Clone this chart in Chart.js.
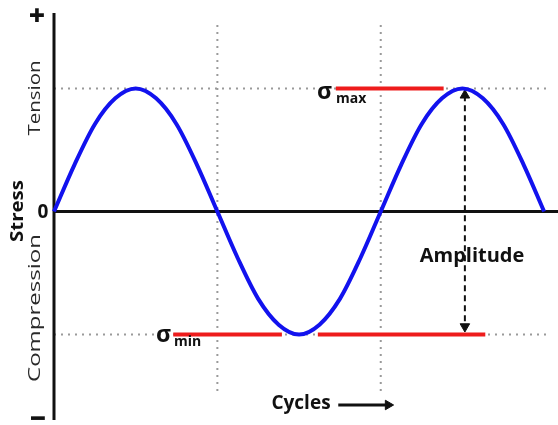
<!DOCTYPE html>
<html>
<head>
<meta charset="utf-8">
<script src="https://cdn.jsdelivr.net/npm/chart.js@4"></script>
<style>
  html, body { margin: 0; padding: 0; background: #ffffff; overflow: hidden; }
  canvas { display: block; }
</style>
</head>
<body>
<canvas id="c" width="558" height="425"></canvas>
<script>
// ---- data (x in quarter-cycles, y in units of stress amplitude) ----
const phase  = [0, 0.25, 0.5, 0.75, 1, 1.25, 1.5, 1.75, 2, 2.25, 2.5, 2.75, 3,
                3.25, 3.5, 3.75, 4, 4.25, 4.5, 4.75, 5, 5.25, 5.5, 5.75, 6];
const stress = [0, 0.38, 0.71, 0.92, 1, 0.92, 0.71, 0.38, 0, -0.38, -0.71, -0.92, -1,
                -0.92, -0.71, -0.38, 0, 0.38, 0.71, 0.92, 1, 0.92, 0.71, 0.38, 0];
const cycleMarks   = [2, 4];          // vertical dotted guides
const stressLevels = [1, -1];         // sigma max / sigma min levels
const sigmaMaxSpan = [3.45, 4.77];
const sigmaMinSpans = [[1.46, 2.79], [3.23, 5.28]];
const amplitudeX = 5.03;
const amplitudeEnds = [0.945, -0.935];
const cyclesArrow = { y: -1.573, from: 3.48, to: 4.09 };
const xRange = [0, 6.17];
const yRange = [-1.695, 1.614];
const guideTop = 1.516, guideBottom = -1.492, levelEnd = 6.05;

const line = (pts, extra) => Object.assign({
  data: pts, showLine: true, pointRadius: 0, pointHoverRadius: 0,
  fill: false, clip: false, tension: 0
}, extra);

const datasets = [];
// blue stress curve
datasets.push(line(phase.map((x, i) => ({ x, y: stress[i] })), {
  borderColor: '#1212ee', borderWidth: 4, cubicInterpolationMode: 'monotone', order: 1
}));
// amplitude arrow
datasets.push(line([{ x: amplitudeX, y: amplitudeEnds[0] }, { x: amplitudeX, y: amplitudeEnds[1] }], {
  borderColor: '#111', borderWidth: 2, borderDash: [6, 4], order: 2
}));
datasets.push({
  data: [{ x: amplitudeX, y: amplitudeEnds[0] }, { x: amplitudeX, y: amplitudeEnds[1] },
         { x: cyclesArrow.to, y: cyclesArrow.y }],
  showLine: false, pointStyle: 'triangle', pointRadius: 5.5, pointRotation: [0, 180, 90],
  backgroundColor: '#111', borderColor: '#111', borderWidth: 1, clip: false, order: 2
});
// cycles arrow shaft
datasets.push(line([{ x: cyclesArrow.from, y: cyclesArrow.y }, { x: cyclesArrow.to, y: cyclesArrow.y }], {
  borderColor: '#111', borderWidth: 3, order: 2
}));
// axes
datasets.push(line([{ x: 0, y: 0 }, { x: xRange[1], y: 0 }], { borderColor: '#111', borderWidth: 3, order: 3 }));
datasets.push(line([{ x: 0, y: yRange[0] }, { x: 0, y: yRange[1] }], { borderColor: '#111', borderWidth: 3, order: 3 }));
// red sigma lines
datasets.push(line([{ x: sigmaMaxSpan[0], y: stressLevels[0] }, { x: sigmaMaxSpan[1], y: stressLevels[0] }], {
  borderColor: '#ee1c1c', borderWidth: 4, order: 4
}));
sigmaMinSpans.forEach(s => datasets.push(line([{ x: s[0], y: stressLevels[1] }, { x: s[1], y: stressLevels[1] }], {
  borderColor: '#ee1c1c', borderWidth: 4, order: 4
})));
// dotted guides
stressLevels.forEach(v => datasets.push(line([{ x: 0, y: v }, { x: levelEnd, y: v }], {
  borderColor: '#9a9a9a', borderWidth: 2, borderDash: [2, 5], order: 5
})));
cycleMarks.forEach(v => datasets.push(line([{ x: v, y: guideTop }, { x: v, y: guideBottom }], {
  borderColor: '#9a9a9a', borderWidth: 2, borderDash: [2, 5], order: 5
})));

const labels = {
  id: 'labels',
  afterDatasetsDraw(chart) {
    const ctx = chart.ctx;
    const fam = '"Open Sans", "DejaVu Sans", sans-serif';
    const txt = (s, x, y, font, opts = {}) => {
      ctx.save();
      ctx.font = font;
      ctx.fillStyle = opts.color || '#111';
      ctx.textAlign = opts.align || 'center';
      ctx.textBaseline = opts.base || 'middle';
      ctx.translate(x, y);
      if (opts.rot) ctx.rotate(opts.rot);
      if (opts.len) {
        const w = ctx.measureText(s).width;
        ctx.scale(opts.len / w, 1);
      }
      ctx.fillText(s, 0, 0);
      ctx.restore();
    };
    txt('+', 37, 17, `800 28px ${fam}`);
    txt('−', 38, 420, `800 28px ${fam}`);
    txt('0', 43, 213, `bold 19px ${fam}`);
    txt('Stress', 18, 211, `bold 18px ${fam}`, { rot: -Math.PI / 2, len: 62 });
    txt('Tension', 35, 98, `17px ${fam}`, { rot: -Math.PI / 2, color: '#2a2a2a', len: 75 });
    txt('Compression', 35, 308, `17px ${fam}`, { rot: -Math.PI / 2, color: '#2a2a2a', len: 148 });
    txt('σ', 317, 99, `bold 23px ${fam}`, { align: 'left', base: 'alphabetic' });
    txt('max', 336, 103, `bold 14px ${fam}`, { align: 'left', base: 'alphabetic' });
    txt('σ', 156, 342, `bold 23px ${fam}`, { align: 'left', base: 'alphabetic' });
    txt('min', 174, 346, `bold 14px ${fam}`, { align: 'left', base: 'alphabetic' });
    txt('Amplitude', 472, 256, `bold 20px ${fam}`);
    txt('Cycles', 301, 404, `bold 19px ${fam}`);
  }
};

new Chart(document.getElementById('c'), {
  type: 'scatter',
  data: { datasets },
  options: {
    responsive: false, animation: false,
    layout: { autoPadding: false, padding: { left: 54, top: 13, right: 0, bottom: 5 } },
    plugins: { legend: { display: false }, tooltip: { enabled: false } },
    events: [],
    scales: {
      x: { type: 'linear', display: false, min: xRange[0], max: xRange[1] },
      y: { type: 'linear', display: false, min: yRange[0], max: yRange[1] }
    }
  },
  plugins: [labels]
});
</script>
</body>
</html>
